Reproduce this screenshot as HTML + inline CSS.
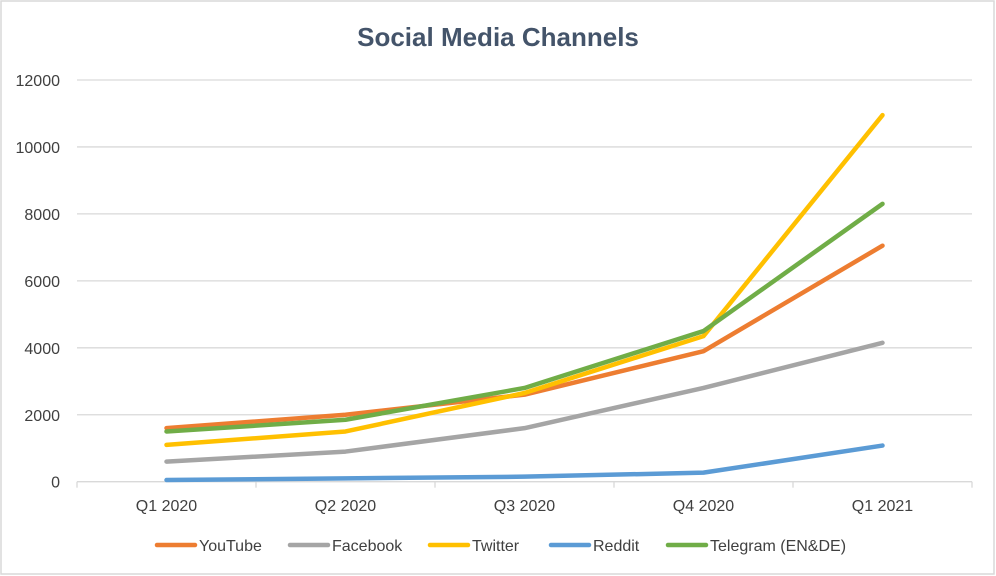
<!DOCTYPE html>
<html><head><meta charset="utf-8"><style>
html,body{margin:0;padding:0;background:#fff;}
svg{display:block;font-family:"Liberation Sans",sans-serif;}
</style></head><body>
<svg id="chart" width="996" height="576">
<rect x="1" y="1" width="993" height="573" fill="#fff" stroke="#d9d9d9" stroke-width="1.5"/>
<text x="498" y="46" text-anchor="middle" font-size="26" font-weight="bold" fill="#44546a">Social Media Channels</text>
<g id="grid"></g><g id="axes"></g><g id="lines"></g><g id="legend"></g>
</svg>
<script>
const categories=["Q1 2020","Q2 2020","Q3 2020","Q4 2020","Q1 2021"];
const seriesNames=["YouTube","Facebook","Twitter","Reddit","Telegram (EN&DE)"];
const youtube=[1600,2000,2600,3900,7050];
const facebook=[600,900,1600,2800,4150];
const twitter=[1100,1500,2650,4350,10950];
const reddit=[50,100,150,270,1080];
const telegram=[1500,1850,2800,4500,8300];
const yTicks=[0,2000,4000,6000,8000,10000,12000];
const colors=["#ed7d31","#a5a5a5","#ffc000","#5b9bd5","#70ad47"];
const NS="http://www.w3.org/2000/svg";
const L=77,R=972,Y0=481.7,Ytop=80,YMAX=12000;
const band=(R-L)/categories.length;
function xs(i){return L+band*(i+0.5);}
function ys(v){return Y0-(Y0-Ytop)*v/YMAX;}
function mk(t,a,p){const e=document.createElementNS(NS,t);for(const k in a)e.setAttribute(k,a[k]);p.appendChild(e);return e;}
const grid=document.getElementById('grid'),axes=document.getElementById('axes'),lines=document.getElementById('lines'),legend=document.getElementById('legend');
yTicks.forEach(v=>{
 const g=mk('line',{x1:L,x2:R,y1:ys(v),y2:ys(v),stroke:'#d9d9d9','stroke-width':1.3},grid);
 
 
 const t=mk('text',{x:60,y:ys(v)+6,'text-anchor':'end','font-size':16,fill:'#404040'},axes);
 t.textContent=v;
 
 
});
for(let i=0;i<=categories.length;i++){
 const tk=mk('line',{x1:L+band*i,x2:L+band*i,y1:Y0,y2:Y0+6,stroke:'#d9d9d9','stroke-width':1.3},axes);
 
 
}
categories.forEach((c,i)=>{
 const t=mk('text',{x:xs(i),y:511,'text-anchor':'middle','font-size':16,fill:'#404040'},axes);
 t.textContent=c;
 
 
});
const data=[youtube,facebook,twitter,reddit,telegram];
const order=[3,1,0,2,4];
order.forEach(s=>{
 const pts=data[s].map((v,i)=>xs(i)+','+ys(v)).join(' ');
 const p=mk('polyline',{points:pts,fill:'none',stroke:colors[s],'stroke-width':4.5,'stroke-linejoin':'round','stroke-linecap':'round'},lines);
 
 
});
const lx=[157,290,430,551,668];
seriesNames.forEach((n,s)=>{
 const g=mk('g',{},legend);
 
 
 mk('line',{x1:lx[s],x2:lx[s]+38,y1:545,y2:545,stroke:colors[s],'stroke-width':4.5,'stroke-linecap':'round'},g);
 const t=mk('text',{x:lx[s]+42,y:551,'font-size':16,fill:'#404040'},g);
 t.textContent=n;
});
</script>
</body></html>
